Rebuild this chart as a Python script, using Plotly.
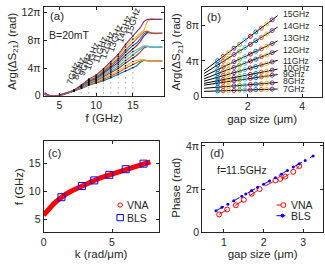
import numpy as np
import plotly.graph_objects as go

COLORS = ['#0072BD', '#D95319', '#EDB120', '#7E2F8E', '#77AC30', '#4DBEEE', '#A2142F']

# ---------------- data ----------------
GAPS = [0.9, 1.1, 1.3, 1.5, 1.7, 1.9, 2.1, 2.3, 2.5, 2.7, 2.9]          # um
FREQS_B = [7, 8, 9, 10, 11, 12, 13, 14, 15]                              # GHz
FREQ_LABELS = ['7GHz', '8GHz', '9GHz', '10GHz', '11GHz', '12GHz', '13GHz', '14GHz', '15GHz']

# phase (units of pi) at each frequency for each gap
PHASE_7 = [0.65, 0.68, 0.69, 0.70, 0.74, 0.75, 0.76, 0.80, 0.81, 0.82, 0.85]
PHASE_8 = [1.07, 1.12, 1.16, 1.22, 1.26, 1.30, 1.37, 1.41, 1.44, 1.51, 1.55]
PHASE_9 = [1.52, 1.62, 1.69, 1.78, 1.88, 1.95, 2.06, 2.13, 2.22, 2.32, 2.40]
PHASE_10 = [1.80, 1.90, 2.04, 2.15, 2.26, 2.39, 2.50, 2.61, 2.75, 2.85, 2.98]
PHASE_11 = [2.18, 2.36, 2.51, 2.70, 2.88, 3.03, 3.22, 3.37, 3.57, 3.72, 3.90]
PHASE_12 = [2.59, 2.81, 3.07, 3.28, 3.53, 3.74, 4.00, 4.21, 4.47, 4.68, 4.93]
PHASE_13 = [3.03, 3.34, 3.60, 3.92, 4.19, 4.50, 4.77, 5.09, 5.35, 5.67, 5.95]
PHASE_14 = [3.56, 3.96, 4.31, 4.73, 5.08, 5.50, 5.85, 6.27, 6.61, 7.03, 7.40]
PHASE_15 = [4.04, 4.52, 4.93, 5.43, 5.85, 6.34, 6.76, 7.25, 7.67, 8.16, 8.60]
PHASE_B = [PHASE_7, PHASE_8, PHASE_9, PHASE_10, PHASE_11, PHASE_12, PHASE_13, PHASE_14, PHASE_15]

# (a) low-frequency and high-frequency parts of each gap's curve (units of pi)
F_LOW = [3, 3.5, 4, 4.5, 5, 5.5, 6, 6.5]
LOW = [
    [0.15, 0.02, -0.02, -0.03, 0.02, 0.15, 0.32, 0.48],
    [0.18, 0.03, -0.02, -0.02, 0.03, 0.16, 0.33, 0.50],
    [0.20, 0.03, -0.01, -0.02, 0.04, 0.17, 0.34, 0.51],
    [0.22, 0.04, -0.01, -0.02, 0.05, 0.18, 0.35, 0.52],
    [0.25, 0.05, 0.00, -0.01, 0.06, 0.19, 0.36, 0.54],
    [0.27, 0.05, 0.00, -0.01, 0.07, 0.20, 0.37, 0.55],
    [0.30, 0.06, 0.00, -0.01, 0.08, 0.21, 0.38, 0.56],
    [0.33, 0.07, 0.01, 0.00, 0.09, 0.22, 0.39, 0.58],
    [0.36, 0.08, 0.01, 0.00, 0.10, 0.23, 0.40, 0.59],
    [0.40, 0.09, 0.02, 0.00, 0.11, 0.24, 0.41, 0.60],
    [0.45, 0.10, 0.02, 0.01, 0.12, 0.25, 0.42, 0.62],
]
F_HIGH = [15.5, 16, 16.5, 17, 17.5, 18, 19]
HIGH = [
    [4.30, 4.80, 5.10, 5.00, 4.95, 5.00, 5.00],
    [4.75, 5.00, 5.15, 5.05, 5.00, 5.00, 5.00],
    [5.10, 5.20, 5.20, 5.05, 5.00, 5.00, 5.00],
    [5.80, 6.30, 6.90, 7.10, 7.00, 6.95, 7.00],
    [6.20, 6.60, 7.10, 7.15, 7.00, 7.00, 7.00],
    [6.60, 6.90, 7.20, 7.10, 7.00, 7.00, 7.00],
    [7.20, 7.80, 8.60, 9.10, 9.00, 8.95, 9.00],
    [7.60, 8.20, 8.90, 9.20, 9.00, 9.00, 9.00],
    [8.10, 8.60, 9.20, 9.30, 9.00, 9.00, 9.00],
    [8.50, 9.00, 9.40, 10.80, 11.10, 11.00, 11.00],
    [9.10, 9.80, 10.70, 11.00, 11.00, 11.00, 11.00],
]

# (b) label heights (units of pi) as printed at the right of the fits
LABEL_Y_B = [0.83, 1.73, 2.54, 3.25, 4.0, 5.19, 6.59, 7.89, 9.22]

# (c) dispersion
K_VNA = [0, 0.25, 0.5, 0.75, 1.0, 1.3, 1.6, 2.0, 2.4, 2.8, 3.2, 3.7, 4.2, 4.8, 5.4, 6.0, 6.6, 7.3, 7.8]
F_VNA = [5.8, 6.6, 7.25, 7.85, 8.4, 9.0, 9.5, 10.05, 10.55, 11.0, 11.45, 12.0, 12.5, 13.0, 13.5, 14.0, 14.5, 15.0, 15.3]
K_BLS = [1.3, 2.8, 3.7, 4.8, 6.0, 7.3]
F_BLS = [9, 11, 12, 13, 14, 15]

# (d) phase vs gap at 11.5 GHz (units of pi)
GAP_VNA_D = [0.88, 1.08, 1.3, 1.5, 1.7, 1.9, 2.3, 2.42, 2.55, 2.75, 2.9]
PH_VNA_D = [0.82, 1.05, 1.25, 1.50, 1.78, 2.00, 2.40, 2.47, 2.58, 2.80, 3.07]
GAP_BLS_D = [0.8, 0.95, 1.1, 1.25, 1.45, 1.55, 1.7, 1.85, 2.0, 2.15, 2.3, 2.45, 2.6, 2.75, 2.9, 3.05, 3.25]
PH_BLS_D = [0.99, 1.15, 1.30, 1.46, 1.67, 1.77, 1.93, 2.08, 2.22, 2.37, 2.53, 2.69, 2.86, 3.02, 3.17, 3.33, 3.54]

# ---------------- figure ----------------
W, H = 325, 271
fig = go.Figure()

# (a) curves
F_A = F_LOW + FREQS_B + F_HIGH
for j, f in enumerate(FREQS_B):
    fig.add_trace(go.Scatter(x=[f, f], y=[0.35, min(PHASE_B[j]) - 0.3], mode='lines',
                             line=dict(color='#555555', width=0.8, dash='1px,4px'),
                             showlegend=False, xaxis='x', yaxis='y'))
for i, g in enumerate(GAPS):
    ys = LOW[i] + [PHASE_B[j][i] for j in range(len(FREQS_B))] + HIGH[i]
    fig.add_trace(go.Scatter(x=F_A, y=ys, mode='lines', line=dict(color=COLORS[i % 7], width=1.1),
                             showlegend=False, xaxis='x', yaxis='y'))
bx, by = [], []
for j, f in enumerate(FREQS_B):
    for v in PHASE_B[j]:
        bx.append(f); by.append(v)
fig.add_trace(go.Scatter(x=bx, y=by, mode='markers', marker=dict(color='black', size=1.6),
                         showlegend=False, xaxis='x', yaxis='y'))

# (b) points + fits
FIT_X = [0.4, 3.1]
for j, f in enumerate(FREQS_B):
    p = np.polyfit(GAPS, PHASE_B[j], 1)
    fig.add_trace(go.Scatter(x=FIT_X, y=np.polyval(p, FIT_X), mode='lines',
                             line=dict(color='black', width=1), showlegend=False,
                             xaxis='x2', yaxis='y2'))
for i, g in enumerate(GAPS):
    fig.add_trace(go.Scatter(x=[g] * len(FREQS_B), y=[PHASE_B[j][i] for j in range(len(FREQS_B))],
                             mode='markers',
                             marker=dict(symbol='circle-open', color=COLORS[i % 7], size=4, line=dict(width=1)),
                             showlegend=False, xaxis='x2', yaxis='y2'))
annotations = []
for j, f in enumerate(FREQS_B):
    annotations.append(dict(x=3.22, y=LABEL_Y_B[j], xref='x2', yref='y2',
                            text=FREQ_LABELS[j], showarrow=False, xanchor='left', yanchor='middle',
                            font=dict(size=8.5)))

# (c)
fig.add_trace(go.Scatter(x=K_VNA, y=F_VNA, mode='lines', line=dict(color='#FF0000', width=5),
                         showlegend=False, xaxis='x3', yaxis='y3'))
fig.add_trace(go.Scatter(x=K_BLS, y=F_BLS, mode='markers',
                         marker=dict(symbol='square-open', color='#0000FF', size=7, line=dict(width=1)),
                         showlegend=False, xaxis='x3', yaxis='y3'))

# (d)
fig.add_trace(go.Scatter(x=GAP_VNA_D, y=PH_VNA_D, mode='lines+markers',
                         line=dict(color='#FF0000', width=1, dash='dash'),
                         marker=dict(symbol='circle-open', color='#FF0000', size=5, line=dict(width=1)),
                         showlegend=False, xaxis='x4', yaxis='y4'))
fig.add_trace(go.Scatter(x=GAP_BLS_D, y=PH_BLS_D, mode='lines+markers',
                         line=dict(color='#0000FF', width=1, dash='dash'),
                         marker=dict(symbol='circle', color='#0000FF', size=3),
                         showlegend=False, xaxis='x4', yaxis='y4'))


def px_x(a, b):
    return [a / W, b / W]


def px_y(top, bot):
    return [(H - bot) / H, (H - top) / H]


def PX(x):
    return x / W


def PY(y):
    return (H - y) / H


axis_common = dict(showline=True, linecolor='#262626', linewidth=1, mirror='ticks', ticks='inside',
                   ticklen=3, tickcolor='#262626', showgrid=False, zeroline=False,
                   tickfont=dict(size=10.5, color='#262626'), title_font=dict(size=11.5, color='#262626'))

pi_ticks_a = dict(tickvals=[0, 4, 8, 12], ticktext=['0', '4π', '8π', '12π'])
pi_ticks_b = dict(tickvals=[0, 4, 8], ticktext=['0', '4π', '8π'])
pi_ticks_d = dict(tickvals=[0, 2, 4], ticktext=['0', '2π', '4π'])

fig.update_layout(
    width=W, height=H, margin=dict(l=0, r=0, t=0, b=0), showlegend=False,
    paper_bgcolor='white', plot_bgcolor='white',
    font=dict(family='Liberation Sans, Arial, sans-serif', size=10, color='#262626'),
    xaxis=dict(domain=px_x(41, 163), range=[2.85, 19.3], tickvals=[5, 10, 15], anchor='y',
               title=dict(text='f (GHz)', standoff=3), **axis_common),
    yaxis=dict(domain=px_y(4, 96), range=[0, 12.8], anchor='x',
               title=dict(text='Arg(ΔS<sub>21</sub>) (rad)', standoff=2), **pi_ticks_a, **axis_common),
    xaxis2=dict(domain=px_x(201, 322), range=[0.33, 4.73], tickvals=[2, 4], anchor='y2',
                title=dict(text='gap size (μm)', standoff=3), **axis_common),
    yaxis2=dict(domain=px_y(4, 97), range=[0, 10.05], anchor='x2',
                title=dict(text='Arg(ΔS<sub>21</sub>) (rad)', standoff=2), **pi_ticks_b, **axis_common),
    xaxis3=dict(domain=px_x(41, 157), range=[0, 8.4], tickvals=[0, 5], anchor='y3',
                title=dict(text='k (rad/μm)', standoff=3), **axis_common),
    yaxis3=dict(domain=px_y(143, 237), range=[2.76, 19], tickvals=[5, 10, 15], anchor='x3',
                title=dict(text='f (GHz)', standoff=2), **axis_common),
    xaxis4=dict(domain=px_x(201, 323), range=[0.45, 3.5], tickvals=[1, 2, 3], anchor='y4',
                title=dict(text='gap size (μm)', standoff=3), **axis_common),
    yaxis4=dict(domain=px_y(145, 237), range=[0, 4.13], anchor='x4',
                title=dict(text='Phase (rad)', standoff=2), **pi_ticks_d, **axis_common),
)

# (a) rotated frequency labels
LABEL_POS_A = [(6.85, 3.3), (7.66, 4.0), (8.47, 4.6), (9.37, 5.8), (10.5, 6.65),
               (11.6, 7.4), (12.6, 8.3), (13.9, 9.7), (15.0, 10.8)]
for (lx, ly), t in zip(LABEL_POS_A, FREQ_LABELS):
    annotations.append(dict(x=lx, y=ly, xref='x', yref='y', text=t, textangle=-72, showarrow=False,
                            font=dict(size=9)))

annotations += [
    dict(x=PX(45), y=PY(13), xref='paper', yref='paper', text='(a)', showarrow=False,
         xanchor='left', yanchor='middle', font=dict(size=11.5)),
    dict(x=PX(44), y=PY(33), xref='paper', yref='paper', text='B=20mT', showarrow=False,
         xanchor='left', yanchor='middle', font=dict(size=10.5)),
    dict(x=PX(204), y=PY(14), xref='paper', yref='paper', text='(b)', showarrow=False,
         xanchor='left', yanchor='middle', font=dict(size=11.5)),
    dict(x=PX(43), y=PY(155), xref='paper', yref='paper', text='(c)', showarrow=False,
         xanchor='left', yanchor='middle', font=dict(size=11.5)),
    dict(x=PX(207), y=PY(155), xref='paper', yref='paper', text='(d)', showarrow=False,
         xanchor='left', yanchor='middle', font=dict(size=11.5)),
    dict(x=PX(214), y=PY(173), xref='paper', yref='paper', text='f=11.5GHz', showarrow=False,
         xanchor='left', yanchor='middle', font=dict(size=10.5)),
    # legend texts
    dict(x=PX(123), y=PY(209), xref='paper', yref='paper', text='VNA', showarrow=False,
         xanchor='left', yanchor='middle', font=dict(size=10.5)),
    dict(x=PX(123), y=PY(222), xref='paper', yref='paper', text='BLS', showarrow=False,
         xanchor='left', yanchor='middle', font=dict(size=10.5)),
    dict(x=PX(289), y=PY(209), xref='paper', yref='paper', text='VNA', showarrow=False,
         xanchor='left', yanchor='middle', font=dict(size=10.5)),
    dict(x=PX(289), y=PY(220), xref='paper', yref='paper', text='BLS', showarrow=False,
         xanchor='left', yanchor='middle', font=dict(size=10.5)),
]

# hand-drawn legend glyphs (paper coordinates)
shapes = [
    dict(type='circle', xref='paper', yref='paper', x0=PX(116), x1=PX(120.5), y0=PY(211.2), y1=PY(206.8),
         line=dict(color='#FF0000', width=1)),
    dict(type='rect', xref='paper', yref='paper', x0=PX(115), x1=PX(121.5), y0=PY(225.2), y1=PY(218.8),
         line=dict(color='#0000FF', width=1)),
    dict(type='line', xref='paper', yref='paper', x0=PX(276), x1=PX(288), y0=PY(209), y1=PY(209),
         line=dict(color='#FF0000', width=1, dash='dash')),
    dict(type='circle', xref='paper', yref='paper', x0=PX(280.5), x1=PX(285.5), y0=PY(211.5), y1=PY(206.5),
         line=dict(color='#FF0000', width=1), fillcolor='white'),
    dict(type='line', xref='paper', yref='paper', x0=PX(276), x1=PX(288), y0=PY(220), y1=PY(220),
         line=dict(color='#0000FF', width=1, dash='dash')),
    dict(type='circle', xref='paper', yref='paper', x0=PX(280.7), x1=PX(283.7), y0=PY(221.5), y1=PY(218.5),
         line=dict(color='#0000FF', width=1), fillcolor='#0000FF'),
]
fig.update_layout(annotations=annotations, shapes=shapes)

fig.write_html('out.html', config={'displayModeBar': False},
               post_script="document.body.style.margin='0';document.body.style.padding='0';")
